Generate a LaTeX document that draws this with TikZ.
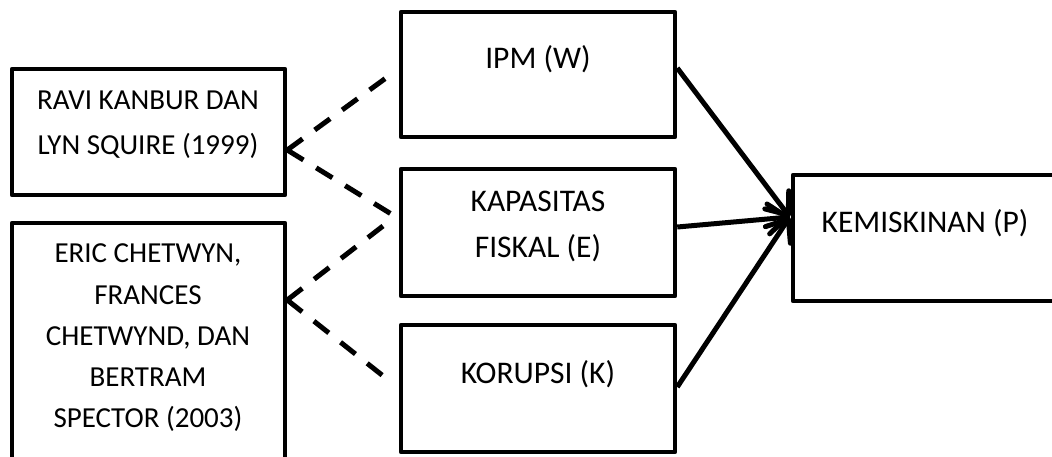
\documentclass[tikz,border=0pt]{standalone}
\usepackage{fontspec}
\setmainfont{Carlito}
\usetikzlibrary{arrows.meta,calc}
\begin{document}
\begin{tikzpicture}[x=1pt,y=-1pt,
  box/.style={draw, line width=4.5pt, inner sep=0pt, line join=round},
  txt/.style={anchor=base, inner sep=0pt, align=flush center, text width=270pt},
  solidarrow/.style={line width=5pt, -{Straight Barb[length=19pt,width=30pt,line cap=round,line join=round]}},
  dashline/.style={line width=5pt, dash pattern=on 19pt off 15pt}
]
\useasboundingbox (0,0) rectangle (1052,456);
\clip (0,0) rectangle (1052,456);
% boxes
\node[box, minimum width=273pt, minimum height=126pt] (ravi) at (148.5,132) {};
\node[box, minimum width=273pt, minimum height=247pt] (eric) at (148.5,346.5) {};
\node[box, minimum width=274pt, minimum height=125pt] (ipm) at (538,74.5) {};
\node[box, minimum width=274pt, minimum height=127pt] (kap) at (538,232.5) {};
\node[box, minimum width=274pt, minimum height=127pt] (kor) at (538,388.5) {};
\node[box, minimum width=267pt, minimum height=126pt] (kem) at (926.5,238) {};
% texts
\node[txt, font=\fontsize{29}{44.7}\selectfont] (ravit) at (148,109.5) {RAVI KANBUR DAN\\LYN SQUIRE (1999)};
\node[txt, font=\fontsize{29}{41.3}\selectfont] (erict) at (148,262.7) {ERIC CHETWYN,\\FRANCES\\CHETWYND, DAN\\BERTRAM\\SPECTOR (2003)};
\node[txt, font=\fontsize{31.5}{44}\selectfont] (ipmt) at (538,68) {IPM (W)};
\node[txt, font=\fontsize{31.5}{45.6}\selectfont] (kapt) at (538,211.7) {KAPASITAS\\FISKAL (E)};
\node[txt, font=\fontsize{31.5}{44}\selectfont] (kort) at (538,383) {KORUPSI (K)};
\node[txt, font=\fontsize{31.5}{44}\selectfont] (kemt) at (925,232) {KEMISKINAN (P)};
% connector points
\coordinate (rtip) at ([yshift=-18pt]ravi.east);
\coordinate (etip) at ([yshift=46.5pt]eric.east);
\coordinate (ptip) at ([xshift=-1pt,yshift=21pt]kem.west);
% dashed connectors
\draw[dashline] (rtip) -- ([xshift=-8pt]ipm.west);
\draw[dashline] (rtip) -- ([xshift=-1pt,yshift=14.5pt]kap.west);
\draw[dashline] (etip) -- ([xshift=-8pt,yshift=12.5pt]kap.west);
\draw[dashline] (etip) -- ([xshift=-8pt,yshift=6.5pt]kor.west);
% solid arrows
\draw[solidarrow] ([yshift=6.5pt]ipm.east) -- (ptip);
\draw[solidarrow] ([yshift=5.5pt]kap.east) -- (ptip);
\draw[solidarrow] ([yshift=1.5pt]kor.east) -- (ptip);
\end{tikzpicture}
\end{document}
